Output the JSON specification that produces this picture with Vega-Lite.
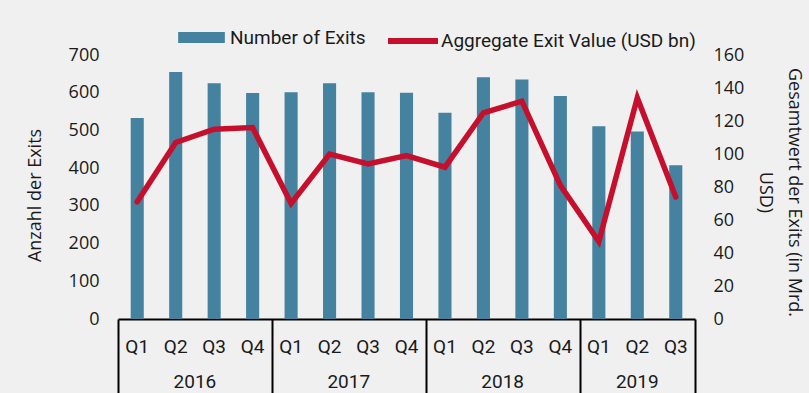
{
  "$schema": "https://vega.github.io/schema/vega-lite/v6.json",
  "width": 577,
  "height": 264,
  "autosize": {"type": "none"},
  "padding": {"left": 118, "top": 55, "right": 114, "bottom": 74},
  "background": "#f0f0f0",
  "config": {"view": {"stroke": null}},
  "data": {
    "values": [
      {"period": "2016 Q1", "year": "2016", "n": 1, "exits": 533, "value": 71},
      {"period": "2016 Q2", "year": "2016", "n": 2, "exits": 655, "value": 107},
      {"period": "2016 Q3", "year": "2016", "n": 3, "exits": 625, "value": 115},
      {"period": "2016 Q4", "year": "2016", "n": 4, "exits": 599, "value": 116},
      {"period": "2017 Q1", "year": "2017", "n": 5, "exits": 601, "value": 70},
      {"period": "2017 Q2", "year": "2017", "n": 6, "exits": 625, "value": 100},
      {"period": "2017 Q3", "year": "2017", "n": 7, "exits": 601, "value": 94},
      {"period": "2017 Q4", "year": "2017", "n": 8, "exits": 600, "value": 99},
      {"period": "2018 Q1", "year": "2018", "n": 9, "exits": 547, "value": 92},
      {"period": "2018 Q2", "year": "2018", "n": 10, "exits": 641, "value": 125},
      {"period": "2018 Q3", "year": "2018", "n": 11, "exits": 635, "value": 132},
      {"period": "2018 Q4", "year": "2018", "n": 12, "exits": 591, "value": 81},
      {"period": "2019 Q1", "year": "2019", "n": 13, "exits": 511, "value": 47},
      {"period": "2019 Q2", "year": "2019", "n": 14, "exits": 497, "value": 134},
      {"period": "2019 Q3", "year": "2019", "n": 15, "exits": 408, "value": 74}
    ]
  },
  "layer": [
    {
      "mark": {"type": "bar"},
      "encoding": {
        "x": {
          "field": "period", "type": "nominal", "sort": null,
          "scale": {"paddingInner": 0.66, "paddingOuter": 0.33},
          "axis": {
            "orient": "bottom", "title": null,
            "labelExpr": "split(datum.value, ' ')[1]",
            "labelAngle": 0, "labelFont": "Roboto", "labelFontSize": 19, "labelColor": "#1a1a1a",
            "labelBaseline": "alphabetic", "labelPadding": 33,
            "ticks": false, "tickSize": 0,
            "domain": true, "domainColor": "#000000", "domainWidth": 2,
            "grid": false
          }
        },
        "y": {
          "field": "exits", "type": "quantitative",
          "scale": {"domain": [0, 700], "nice": false},
          "axis": {
            "orient": "left", "title": "Anzahl der Exits", "tickCount": 7,
            "grid": false, "domain": false, "ticks": false, "tickSize": 0,
            "labelPadding": 19, "labelFont": "Open Sans", "labelFontSize": 18, "labelColor": "#1a1a1a",
            "titleFont": "Open Sans", "titleFontSize": 18, "titleFontWeight": "normal", "titleColor": "#1a1a1a",
            "titleAngle": -90, "titleBaseline": "top", "titleAlign": "center",
            "titleX": -92, "titleY": 140
          }
        },
        "fill": {
          "datum": "Number of Exits",
          "scale": {"range": ["#44829f"]},
          "legend": {
            "title": null, "orient": "none", "legendX": 60, "legendY": -41, "padding": 0,
            "symbolType": "M-1,-0.24H1V0.24H-1Z", "symbolSize": 2180, "symbolStrokeWidth": 0,
            "labelFont": "Roboto", "labelFontSize": 19, "labelColor": "#1a1a1a", "labelOffset": 5, "labelLimit": 400
          }
        }
      }
    },
    {
      "mark": {"type": "line", "strokeWidth": 5.5, "strokeCap": "round"},
      "encoding": {
        "x": {
          "field": "period", "type": "nominal", "sort": null,
          "scale": {"paddingInner": 0.66, "paddingOuter": 0.33},
          "axis": null
        },
        "y": {
          "field": "value", "type": "quantitative",
          "scale": {"domain": [0, 160], "nice": false},
          "axis": {
            "orient": "right", "title": ["Gesamtwert der Exits (in Mrd.", "USD)"], "tickCount": 8,
            "grid": false, "domain": false, "ticks": false, "tickSize": 0,
            "labelPadding": 18, "labelFont": "Open Sans", "labelFontSize": 18, "labelColor": "#1a1a1a",
            "titleFont": "Open Sans", "titleFontSize": 18, "titleFontWeight": "normal", "titleColor": "#1a1a1a",
            "titleAngle": 90, "titleBaseline": "top", "titleAlign": "center", "titleLineHeight": 29,
            "titleX": 107, "titleY": 137
          }
        },
        "stroke": {
          "datum": "Aggregate Exit Value (USD bn)",
          "scale": {"range": ["#c50f2d"]},
          "legend": {
            "title": null, "orient": "none", "legendX": 267, "legendY": -42, "padding": 0,
            "symbolType": "stroke", "symbolSize": 2500, "symbolStrokeWidth": 6,
            "labelFont": "Roboto", "labelFontSize": 19, "labelColor": "#1a1a1a", "labelOffset": 0, "labelLimit": 400
          }
        }
      }
    },
    {
      "mark": {"type": "text", "baseline": "alphabetic", "dy": 69, "font": "Roboto", "fontSize": 19, "color": "#1a1a1a"},
      "encoding": {
        "x": {
          "aggregate": "mean", "field": "n", "type": "quantitative",
          "scale": {"domain": [0.5, 15.5], "nice": false, "zero": false},
          "axis": {
            "orient": "bottom", "title": null, "values": [0.5, 4.5, 8.5, 12.5, 15.5],
            "labels": false, "domain": false, "grid": false,
            "ticks": true, "tickSize": 76, "tickColor": "#000000", "tickWidth": 2
          }
        },
        "y": {"datum": 0, "type": "quantitative", "scale": {"domain": [0, 700], "nice": false}, "axis": null},
        "text": {"field": "year", "type": "nominal"}
      }
    }
  ],
  "resolve": {
    "scale": {"x": "independent", "y": "independent"},
    "axis": {"x": "independent", "y": "independent"}
  }
}
